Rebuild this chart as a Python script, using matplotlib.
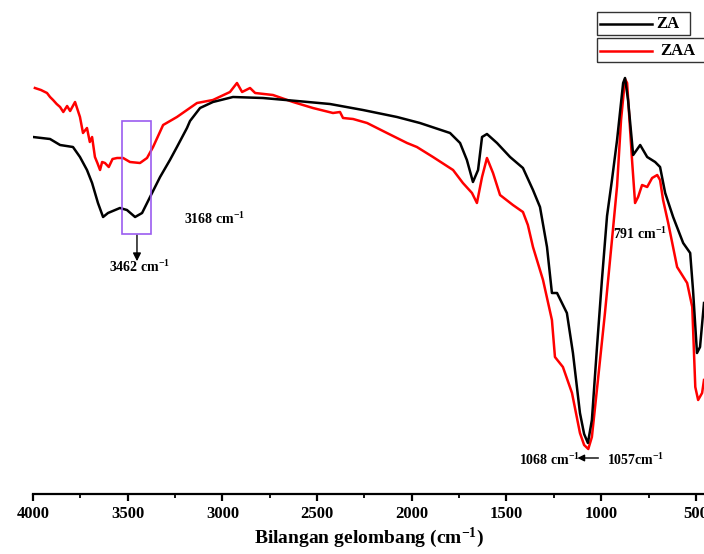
import matplotlib
matplotlib.use("Agg")
import matplotlib.pyplot as plt
from matplotlib.patches import Rectangle
from matplotlib.lines import Line2D
from matplotlib.ticker import MultipleLocator

plt.rcParams['font.family'] = ['Liberation Serif', 'DejaVu Serif']
plt.rcParams['font.weight'] = 'bold'
plt.rcParams['mathtext.fontset'] = 'custom'
plt.rcParams['mathtext.bf'] = 'Liberation Serif:bold'
plt.rcParams['mathtext.rm'] = 'Liberation Serif:bold'
plt.rcParams['mathtext.default'] = 'bf'

# ZA spectrum (wavenumber cm-1, transmittance arbitrary units)
za_wn = [4000, 3910, 3857, 3789, 3752, 3715, 3688, 3657, 3630, 3604, 3541, 3504,
         3461, 3424, 3382, 3329, 3277, 3240, 3187, 3171, 3118, 3050, 2944, 2786,
         2606, 2432, 2258, 2078, 1957, 1798, 1745, 1709, 1677, 1650, 1629, 1603,
         1550, 1481, 1413, 1360, 1323, 1286, 1260, 1233, 1181, 1149, 1112, 1090,
         1070, 1049, 1022, 996, 969, 943, 916, 884, 874, 858, 831, 794, 757, 715,
         689, 662, 620, 567, 530, 515, 494, 478, 457]
za_t = [363, 361, 355, 353, 343, 330, 317, 297, 283, 287, 292, 290,
        283, 287, 303, 323, 340, 353, 372, 379, 392, 398, 403, 402,
        399, 396, 390, 383, 377, 367, 357, 340, 318, 330, 363, 366,
        357, 343, 332, 310, 293, 253, 207, 207, 187, 147, 87, 66,
        57, 80, 153, 220, 284, 320, 360, 417, 422, 400, 345, 355, 343, 338,
        333, 307, 283, 257, 247, 210, 147, 153, 197]

# ZAA spectrum
zaa_wn = [3990, 3958, 3926, 3910, 3894, 3875, 3857, 3840, 3820, 3804, 3778, 3752,
          3736, 3715, 3700, 3688, 3673, 3660, 3646, 3635, 3620, 3600, 3580, 3556,
          3524, 3488, 3435, 3398, 3366, 3313, 3240, 3187, 3134, 3050, 2960, 2923,
          2896, 2854, 2827, 2733, 2627, 2522, 2416, 2379, 2363, 2310, 2236, 2131,
          2025, 1973, 1888, 1782, 1730, 1682, 1656, 1629, 1603, 1571, 1534, 1466,
          1413, 1387, 1360, 1307, 1260, 1244, 1202, 1154, 1112, 1090, 1068, 1049,
          1017, 980, 943, 916, 895, 874, 863, 837, 821, 805, 784, 757, 731, 704,
          689, 673, 646, 599, 546, 519, 503, 488, 467, 457]
zaa_t = [412, 410, 407, 403, 400, 396, 393, 388, 394, 389, 398, 383,
         367, 372, 358, 363, 343, 337, 330, 338, 337, 333, 341, 342,
         342, 338, 337, 342, 353, 375, 383, 390, 397, 400, 408, 417,
         408, 412, 407, 405, 398, 392, 387, 388, 382, 381, 377, 367,
         357, 353, 343, 330, 317, 307, 297, 323, 342, 327, 305, 295,
         288, 275, 253, 220, 180, 143, 133, 107, 67, 55, 51, 63,
         120, 187, 260, 314, 380, 421, 417, 340, 297, 303, 315, 313, 322, 325,
         320, 300, 277, 233, 217, 193, 113, 100, 107, 120]

fig = plt.figure(figsize=(7.04, 5.54), dpi=100)
ax = fig.add_axes([33 / 704, 60 / 554, 671 / 704, 494 / 554])

ax.plot(za_wn, za_t, color='black', lw=1.8, zorder=3)
ax.plot(zaa_wn, zaa_t, color='#ff0000', lw=1.8, zorder=2)

ax.set_xlim(4000, 457)
ax.set_ylim(6, 500)

for s in ['top', 'right', 'left']:
    ax.spines[s].set_visible(False)
ax.spines['bottom'].set_linewidth(1.6)
ax.set_yticks([])
ax.xaxis.set_major_locator(MultipleLocator(500))
ax.xaxis.set_minor_locator(MultipleLocator(250))
ax.tick_params(axis='x', which='major', direction='out', length=5, width=1.6,
               labelsize=12, pad=4)
ax.tick_params(axis='x', which='minor', direction='out', length=3, width=1.3)
for lab in ax.get_xticklabels():
    lab.set_fontweight('bold')
ax.set_xlabel(r'Bilangan gelombang (cm$^{\mathbf{-1}}$)', fontsize=14,
              fontweight='bold', labelpad=2)

# purple box around 3462 band
ax.add_patch(Rectangle((3530, 266), 3377 - 3530, 379 - 266, fill=False,
                       edgecolor='#9b5cf0', lw=1.2, zorder=4))
ax.annotate('', xy=(3451, 236), xytext=(3451, 268),
            arrowprops=dict(arrowstyle='-|>', color='black', lw=1.0,
                            mutation_scale=12))
ax.text(3440, 233, r'3462 cm$^{-1}$', fontsize=10, ha='center', va='center')
ax.text(3040, 281, r'3168 cm$^{-1}$', fontsize=10, ha='center', va='center')
ax.text(795, 266, r'791 cm$^{-1}$', fontsize=10, ha='center', va='center')
ax.text(1275, 40, r'1068 cm$^{-1}$', fontsize=10, ha='center', va='center')
ax.text(820, 40, r'1057cm$^{-1}$', fontsize=10, ha='center', va='center')
ax.annotate('', xy=(1140, 42), xytext=(1000, 42),
            arrowprops=dict(arrowstyle='-|>', color='black', lw=1.0,
                            mutation_scale=10))

# legend boxes (figure pixel layout)
def fx(x):
    return x / 704

def fy(y):
    return 1 - y / 554

fig.add_artist(Rectangle((fx(597), fy(35)), fx(690) - fx(597), fy(12) - fy(35),
                         transform=fig.transFigure, fill=False,
                         edgecolor='#333333', lw=1.0))
fig.add_artist(Rectangle((fx(597), fy(62)), fx(710) - fx(597), fy(38) - fy(62),
                         transform=fig.transFigure, fill=False,
                         edgecolor='#333333', lw=1.0))
fig.add_artist(Line2D([fx(600), fx(652)], [fy(23.5), fy(23.5)],
                      transform=fig.transFigure, color='black', lw=1.8))
fig.add_artist(Line2D([fx(600), fx(652)], [fy(50.5), fy(50.5)],
                      transform=fig.transFigure, color='#ff0000', lw=1.8))
fig.text(fx(656), fy(24), 'ZA', fontsize=12, fontweight='bold', va='center',
         ha='left')
fig.text(fx(660), fy(51), 'ZAA', fontsize=12, fontweight='bold', va='center',
         ha='left')

fig.savefig('out.png', dpi=100)
